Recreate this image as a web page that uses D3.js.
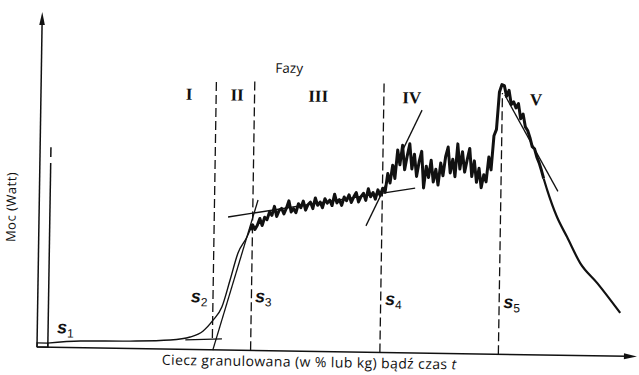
<!DOCTYPE html>
<html>
<head>
<meta charset="utf-8">
<script src="https://cdn.jsdelivr.net/npm/d3@7"></script>
<style>
body { margin: 0; background: #fff; }
</style>
</head>
<body>
<svg width="639" height="375"></svg>
<script>
// curve in chart units: x = liquid added / time (0-100), y = power (0-100)
var riseCurve = [[1.7,1.2],[7.2,2.0],[15.5,2.2],[22.2,2.7],[25.5,3.7],[27.6,5.5],[29.3,8.9],
    [30.7,12.8],[32.0,20.9],[33.25,29.0],[34.7,33.8],[35.2,35.9]];
// noisy recording, sampled every 0.4 from 35.2 up to 84
var noiseStart = 35.2, noiseStep = 0.4;
var noiseValues = [
    35.9,37.5,36.1,37.4,39.4,37.3,39.8,39.1,41.4,40.4,
    43.1,40.1,41.9,42.5,40.9,42.6,44.8,41.5,42.5,41.3,
    44.0,42.8,44.8,42.1,43.8,44.5,42.6,45.8,43.6,44.6,
    42.9,45.6,44.3,45.2,43.6,47.0,44.4,45.4,43.7,46.2,
    45.1,46.9,44.6,46.3,47.6,44.8,46.4,47.4,45.3,48.8,
    46.4,47.7,45.7,48.5,46.8,49.0,47.8,53.4,50.6,55.9,
    52.0,60.5,56.1,61.9,54.6,58.8,62.4,54.9,59.3,52.7,
    57.1,60.2,49.3,55.8,52.4,57.6,51.1,54.9,50.2,56.8,
    53.0,58.7,61.6,53.9,58.0,52.8,62.6,55.1,60.3,54.2,
    57.9,61.3,52.9,57.6,51.2,55.4,49.6,53.5,51.4,58.8,
    55.0,65.2,67.1,78.3,80.5,
    80.2,77.0,78.8,74.6,75.4,73.6,74.9,70.4,71.8,68.0,66.9,64.8,62.1,61.5,59.0,57.3,55.1,52.6
];
var fallCurve = [[84.0,52.6],[84.6,49.3],[86.3,41.3],[88.05,35.3],[90.3,27.6],[93.2,21.7],[97.1,12.9]];

// tangent lines
var tangents = [
    [[24.7,2.8],[30.8,3.3]],
    [[29.3,-0.1],[36.45,44.9]],
    [[31.5,39.7],[62.6,49.2]],
    [[54.5,37.7],[63.55,72.5]],
    [[77.3,77.4],[86.4,48.9]]
];

// phase boundaries s2..s5 (dashed) and s1 (solid)
var boundaryX = [29.2, 35.6, 57.15, 76.9];
var boundaryLow = [3.5, 0, 0, 0];
var boundaryTop = [80.5, 80.5, 80.5, 78];
var s1X = 1.8;
var s1Parts = [[0, 55], [56.8, 59.7]];

var phaseNames = ["I", "II", "III", "IV", "V"];
var phaseX = [24.7, 32.7, 46.2, 61.8, 82.5];
var phaseY = 74.5;
var pointNames = ["1", "2", "3", "4", "5"];
var pointPos = [[3.3,4.2],[25.5,14.1],[36.2,14.4],[57.9,14.2],[77.6,13.8]];

var svg = d3.select("svg");
var x = d3.scaleLinear().domain([0, 100]).range([37, 637]);
var y = d3.scaleLinear().domain([0, 100]).range([347, 12]);

// the scanned figure is slightly tilted
var g = svg.append("g").attr("transform", "rotate(0.9," + x(0) + "," + y(0) + ")");
var ink = "#111";

var line = d3.line().x(d => x(d[0])).y(d => y(d[1]));

// axes
g.append("line").attr("x1", x(0)).attr("y1", y(0)).attr("x2", x(0)).attr("y2", y(100) + 10)
    .attr("stroke", ink).attr("stroke-width", 1.5);
g.append("line").attr("x1", x(0)).attr("y1", y(0)).attr("x2", x(100) - 10).attr("y2", y(0))
    .attr("stroke", ink).attr("stroke-width", 1.5);
g.append("path")
    .attr("d", "M" + x(0) + "," + y(100) + "l-2.8,13l5.6,0z")
    .attr("fill", ink);
g.append("path")
    .attr("d", "M" + x(100) + "," + y(0) + "l-13,-3l0,6z")
    .attr("fill", ink);

// small box at origin
g.append("rect").attr("x", x(0)).attr("y", y(1.2)).attr("width", x(s1X) - x(0)).attr("height", y(0) - y(1.2))
    .attr("fill", "none").attr("stroke", ink).attr("stroke-width", 1.2);

// s1 line
g.selectAll(".s1").data(s1Parts).enter().append("line")
    .attr("x1", x(s1X)).attr("x2", x(s1X))
    .attr("y1", d => y(d[0])).attr("y2", d => y(d[1]))
    .attr("stroke", ink).attr("stroke-width", 1.5);

// dashed boundaries
g.selectAll(".bound").data(boundaryX).enter().append("line")
    .attr("x1", d => x(d)).attr("x2", d => x(d))
    .attr("y1", (d, i) => y(boundaryLow[i])).attr("y2", (d, i) => y(boundaryTop[i]))
    .attr("stroke", ink).attr("stroke-width", 1.3)
    .attr("stroke-dasharray", "9,4");

// tangents
g.selectAll(".tan").data(tangents).enter().append("path")
    .attr("d", line).attr("fill", "none")
    .attr("stroke", ink).attr("stroke-width", 1.3);

// curve
g.append("path").datum(riseCurve)
    .attr("d", line.curve(d3.curveMonotoneX))
    .attr("fill", "none").attr("stroke", ink).attr("stroke-width", 1.4);
var noisy = noiseValues.map((v, i) => [noiseStart + i * noiseStep, v]);
g.append("path").datum(noisy)
    .attr("d", d3.line().x(d => x(d[0])).y(d => y(d[1])))
    .attr("fill", "none").attr("stroke", ink).attr("stroke-width", 3)
    .attr("stroke-linejoin", "round");
g.append("path").datum(fallCurve)
    .attr("d", d3.line().x(d => x(d[0])).y(d => y(d[1])).curve(d3.curveMonotoneX))
    .attr("fill", "none").attr("stroke", ink).attr("stroke-width", 2.2);

// texts
g.append("text").attr("x", x(41.3)).attr("y", y(83)).attr("text-anchor", "middle")
    .attr("font-family", "Open Sans").attr("font-size", 13.5).attr("fill", ink).text("Fazy");

g.selectAll(".phase").data(phaseNames).enter().append("text")
    .attr("x", (d, i) => x(phaseX[i])).attr("y", y(phaseY))
    .attr("text-anchor", "middle")
    .attr("font-family", "Liberation Serif").attr("font-weight", "bold")
    .attr("font-size", 17).attr("fill", ink).text(d => d);

var pl = g.selectAll(".pt").data(pointNames).enter().append("text")
    .attr("x", (d, i) => x(pointPos[i][0])).attr("y", (d, i) => y(pointPos[i][1]))
    .attr("font-family", "Liberation Sans").attr("fill", ink);
pl.append("tspan").attr("font-size", 18).attr("font-weight", "bold").attr("font-style", "italic").text("s");
pl.append("tspan").attr("font-size", 12).attr("dy", 4).text(d => d);

g.append("text")
    .attr("transform", "translate(" + x(-3.9) + "," + y(41.7) + ") rotate(-90)")
    .attr("text-anchor", "middle")
    .attr("font-family", "Open Sans").attr("font-size", 13).attr("letter-spacing", 0.5)
    .attr("fill", ink)
    .text("Moc (Watt)");

var xl = g.append("text").attr("x", x(45.4)).attr("y", y(-4.7)).attr("text-anchor", "middle")
    .attr("font-family", "Open Sans").attr("font-size", 14).attr("letter-spacing", 0.4).attr("fill", ink);
xl.append("tspan").text("Ciecz granulowana (w % lub kg) bądź czas ");
xl.append("tspan").attr("font-style", "italic").text("t");
</script>
</body>
</html>
